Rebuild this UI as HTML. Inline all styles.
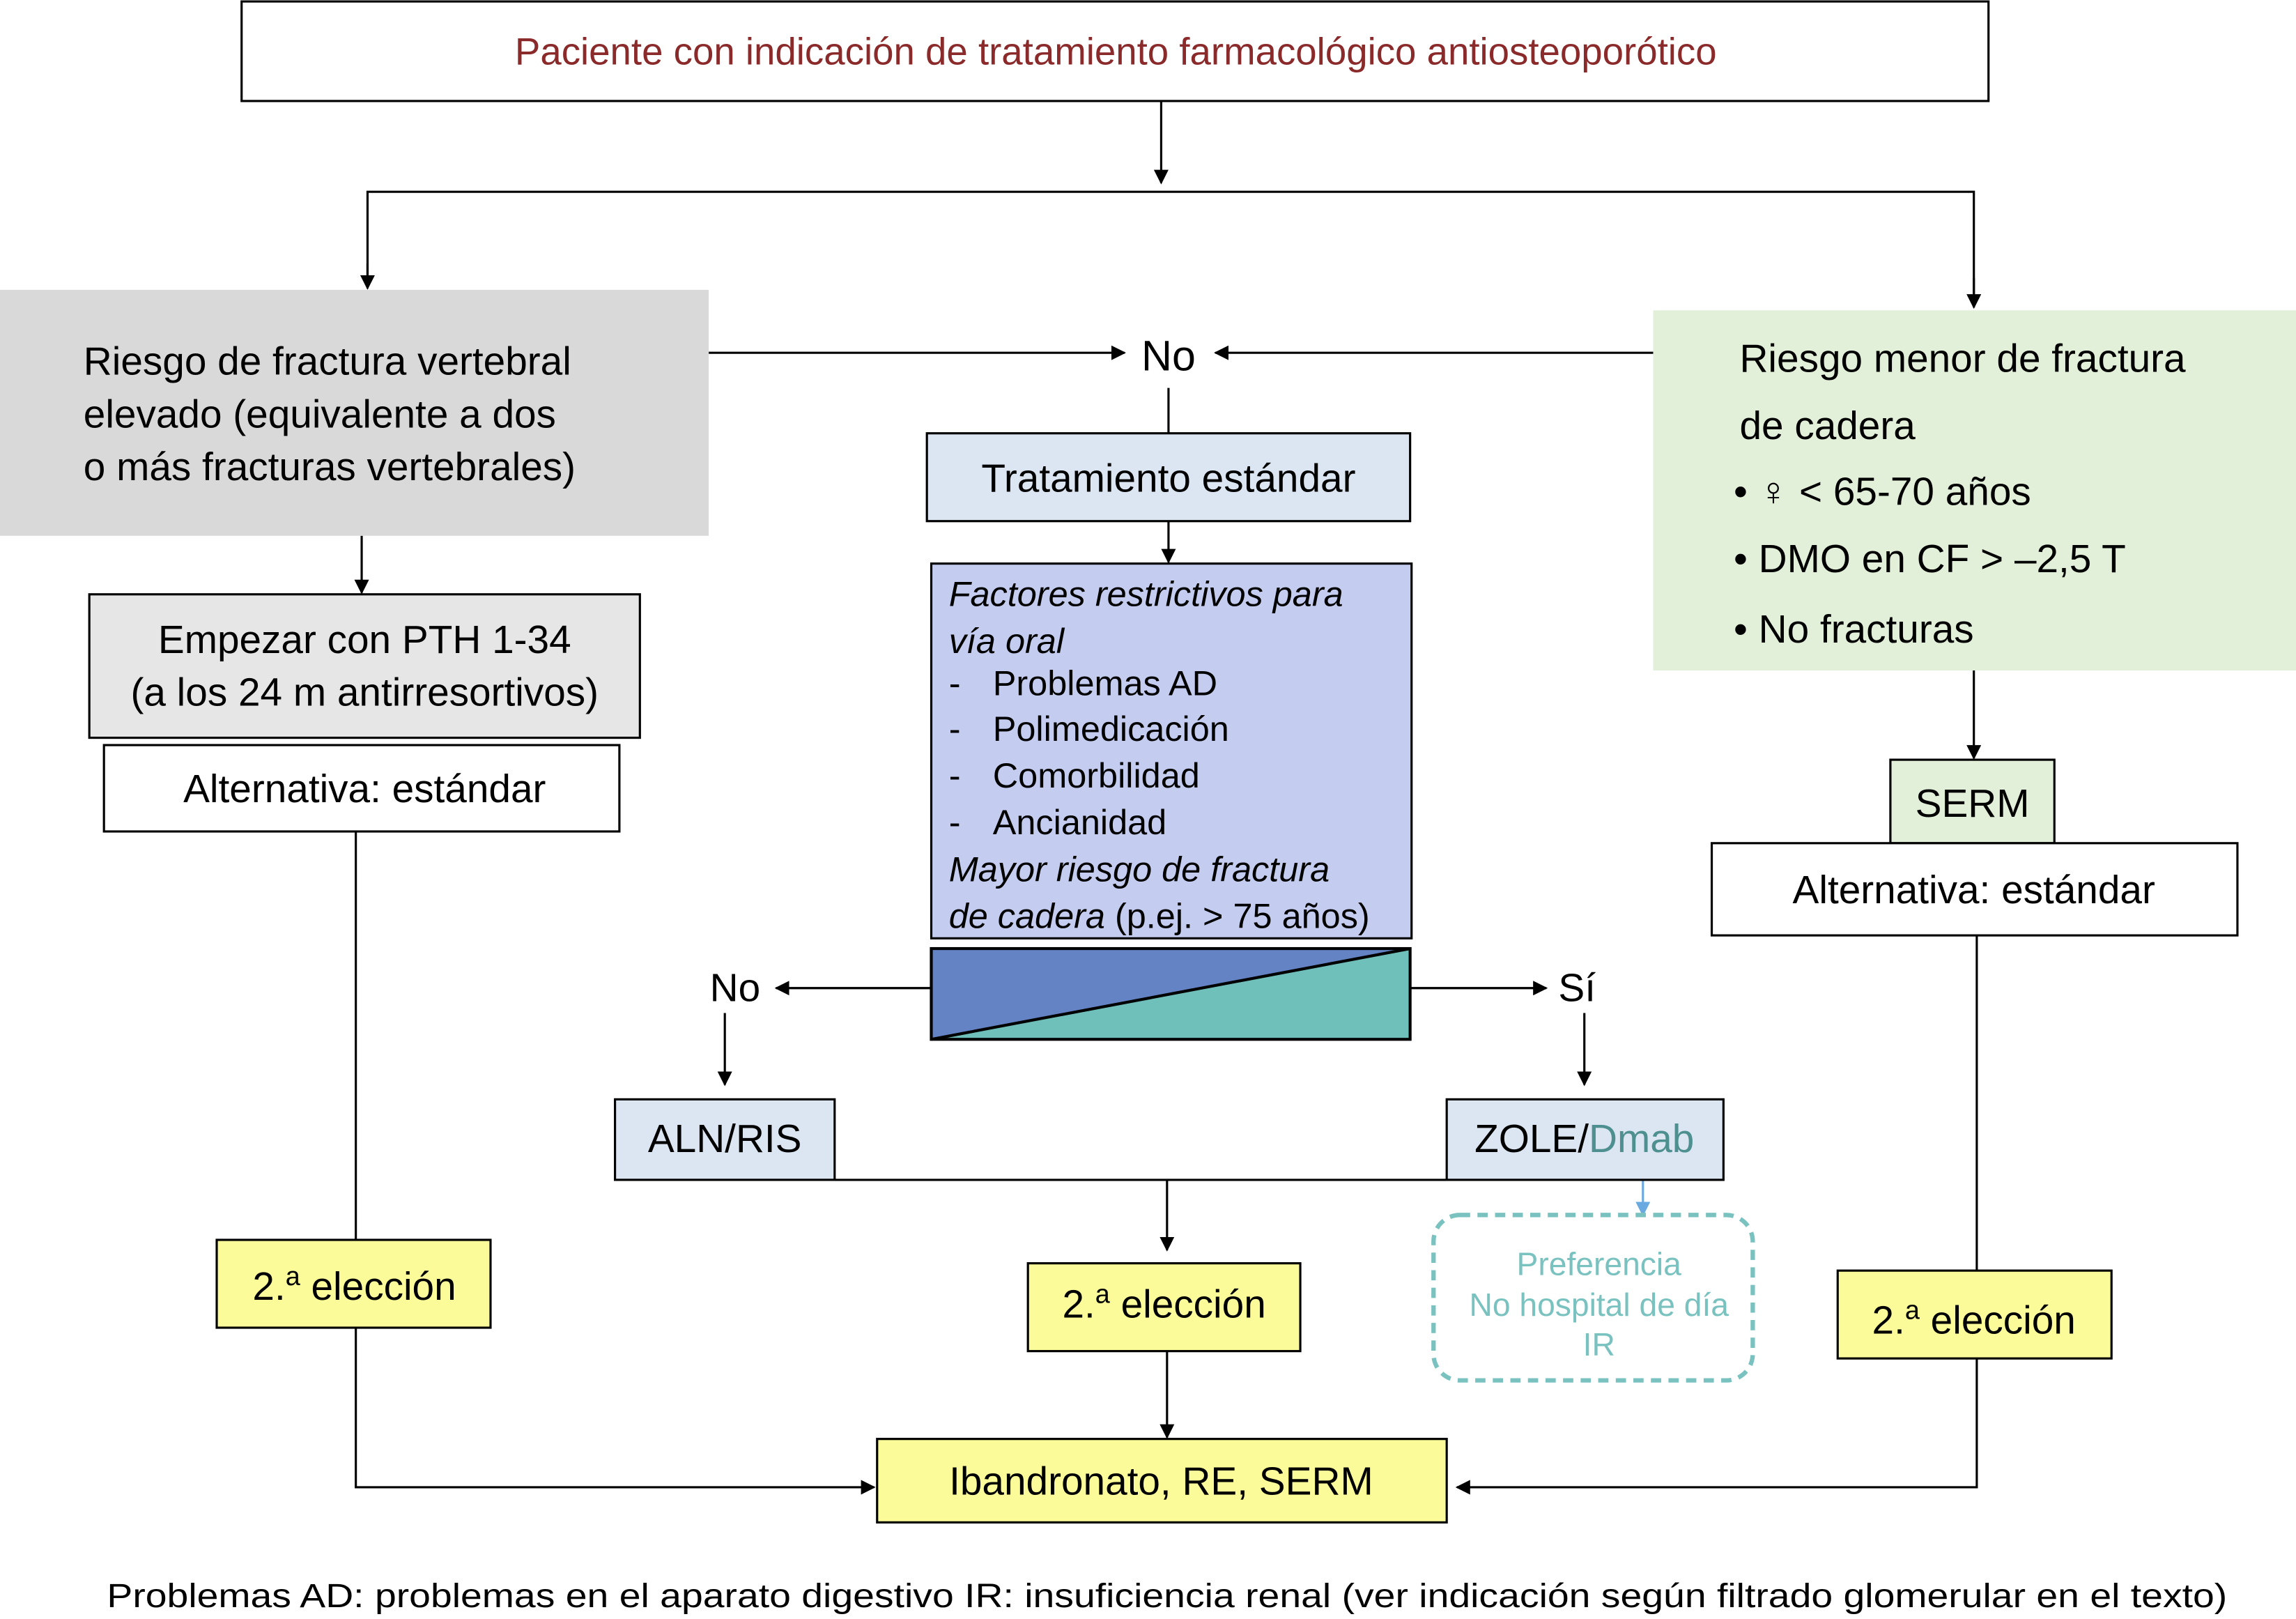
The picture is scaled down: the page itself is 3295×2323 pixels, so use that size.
<!DOCTYPE html>
<html><head><meta charset="utf-8"><style>
html,body{margin:0;padding:0;background:#fff;}
svg{display:block;}
text{font-family:"Liberation Sans",Arial,sans-serif;}
</style></head><body>
<svg width="3295" height="2323" viewBox="0 0 1568 1106" preserveAspectRatio="none" xmlns="http://www.w3.org/2000/svg">
<defs>
<marker id="a" markerWidth="10" markerHeight="10" refX="9" refY="5" orient="auto" markerUnits="userSpaceOnUse"><path d="M0,0 L10,5 L0,10 z" fill="#000"/></marker>
<marker id="b" markerWidth="10" markerHeight="10" refX="9" refY="5" orient="auto" markerUnits="userSpaceOnUse"><path d="M0,0 L10,5 L0,10 z" fill="#6aaae0"/></marker>
</defs>
<g stroke="#000" stroke-width="1.5" fill="none">
<!-- top -->
<line x1="793" y1="69" x2="793" y2="125" marker-end="url(#a)"/>
<polyline points="251,196 251,131 1348,131 1348,209" />
<line x1="251" y1="180" x2="251" y2="197" marker-end="url(#a)"/>
<line x1="1348" y1="190" x2="1348" y2="210" marker-end="url(#a)"/>
<line x1="484" y1="241" x2="768" y2="241" marker-end="url(#a)"/>
<line x1="1129" y1="241" x2="830" y2="241" marker-end="url(#a)"/>
<line x1="798" y1="265" x2="798" y2="296"/>
<line x1="798" y1="356" x2="798" y2="384" marker-end="url(#a)"/>
<line x1="636" y1="675" x2="530" y2="675" marker-end="url(#a)"/>
<line x1="963" y1="675" x2="1056" y2="675" marker-end="url(#a)"/>
<line x1="495" y1="692" x2="495" y2="741" marker-end="url(#a)"/>
<line x1="1082" y1="692" x2="1082" y2="741" marker-end="url(#a)"/>
<line x1="570" y1="806" x2="988" y2="806"/>
<line x1="797" y1="806" x2="797" y2="854" marker-end="url(#a)"/>
<line x1="797" y1="923" x2="797" y2="982" marker-end="url(#a)"/>
<line x1="247" y1="366" x2="247" y2="405" marker-end="url(#a)"/>
<line x1="243" y1="568" x2="243" y2="847"/>
<polyline points="243,907 243,1016 597,1016" marker-end="url(#a)"/>
<line x1="1348" y1="458" x2="1348" y2="518" marker-end="url(#a)"/>
<line x1="1350" y1="639" x2="1350" y2="868"/>
<polyline points="1350,928 1350,1016 995,1016" marker-end="url(#a)"/>
</g>
<line x1="1122" y1="806" x2="1122" y2="830" stroke="#6aaae0" stroke-width="1.5" marker-end="url(#b)"/>
<!-- boxes -->
<rect x="165" y="1" width="1193" height="68" fill="#fff" stroke="#000" stroke-width="1.5"/>
<text x="762" y="44" font-size="26" fill="#8b2a2a" text-anchor="middle">Paciente con indicación de tratamiento farmacológico antiosteoporótico</text>
<rect x="0" y="198" width="484" height="168" fill="#d9d9d9"/>
<g font-size="27" fill="#000">
<text x="57" y="256">Riesgo de fractura vertebral</text>
<text x="57" y="292">elevado (equivalente a dos</text>
<text x="57" y="328">o más fracturas vertebrales)</text>
</g>
<text x="798" y="253" font-size="29" text-anchor="middle">No</text>
<rect x="1129" y="212" width="439" height="246" fill="#e2efd9"/>
<g font-size="27">
<text x="1188" y="254">Riesgo menor de fractura</text>
<text x="1188" y="300">de cadera</text>
<text x="1184" y="345">• ♀ &lt; 65-70 años</text>
<text x="1184" y="391">• DMO en CF &gt; –2,5 T</text>
<text x="1184" y="439">• No fracturas</text>
</g>
<rect x="633" y="296" width="330" height="60" fill="#dce6f2" stroke="#000" stroke-width="1.5"/>
<text x="798" y="336" font-size="27" text-anchor="middle">Tratamiento estándar</text>
<rect x="636" y="385" width="328" height="256" fill="#c4cdef" stroke="#000" stroke-width="1.5"/>
<g font-size="24">
<text x="648" y="414" font-style="italic">Factores restrictivos para</text>
<text x="648" y="446" font-style="italic">vía oral</text>
<text x="648" y="475">-</text><text x="678" y="475">Problemas AD</text>
<text x="648" y="506">-</text><text x="678" y="506">Polimedicación</text>
<text x="648" y="538">-</text><text x="678" y="538">Comorbilidad</text>
<text x="648" y="570">-</text><text x="678" y="570">Ancianidad</text>
<text x="648" y="602" font-style="italic">Mayor riesgo de fractura</text>
<text x="648" y="634"><tspan font-style="italic">de cadera</tspan> (p.ej. &gt; 75 años)</text>
</g>
<polygon points="636,648 963,648 636,710" fill="#6383c4"/>
<polygon points="963,648 963,710 636,710" fill="#6fbfbb"/>
<rect x="636" y="648" width="327" height="62" fill="none" stroke="#000" stroke-width="2"/>
<line x1="636" y1="710" x2="963" y2="648" stroke="#000" stroke-width="2"/>
<text x="502" y="684" font-size="27" text-anchor="middle">No</text>
<text x="1077" y="684" font-size="27" text-anchor="middle">Sí</text>
<rect x="420" y="751" width="150" height="55" fill="#dce6f2" stroke="#000" stroke-width="1.5"/>
<text x="495" y="787" font-size="27" text-anchor="middle">ALN/RIS</text>
<rect x="988" y="751" width="189" height="55" fill="#dce6f2" stroke="#000" stroke-width="1.5"/>
<text x="1082" y="787" font-size="27" text-anchor="middle">ZOLE/<tspan fill="#4e8f8f">Dmab</tspan></text>
<rect x="702" y="863" width="186" height="60" fill="#fbfb99" stroke="#000" stroke-width="1.5"/>
<text x="795" y="900" font-size="27" text-anchor="middle">2.<tspan font-size="18" dy="-10">a</tspan><tspan dy="10"> elección</tspan></text>
<rect x="979" y="830" width="218" height="113" rx="18" fill="none" stroke="#7ac2c0" stroke-width="3" stroke-dasharray="7,5"/>
<g font-size="22" fill="#7ac2c0" text-anchor="middle">
<text x="1092" y="871">Preferencia</text>
<text x="1092" y="899">No hospital de día</text>
<text x="1092" y="926">IR</text>
</g>
<rect x="599" y="983" width="389" height="57" fill="#fbfb99" stroke="#000" stroke-width="1.5"/>
<text x="793" y="1021" font-size="27" text-anchor="middle">Ibandronato, RE, SERM</text>
<rect x="61" y="406" width="376" height="98" fill="#e6e6e6" stroke="#000" stroke-width="1.5"/>
<text x="249" y="446" font-size="27" text-anchor="middle">Empezar con PTH 1-34</text>
<text x="249" y="482" font-size="27" text-anchor="middle">(a los 24 m antirresortivos)</text>
<rect x="71" y="509" width="352" height="59" fill="#fff" stroke="#000" stroke-width="1.5"/>
<text x="249" y="548" font-size="27" text-anchor="middle">Alternativa: estándar</text>
<rect x="148" y="847" width="187" height="60" fill="#fbfb99" stroke="#000" stroke-width="1.5"/>
<text x="242" y="888" font-size="27" text-anchor="middle">2.<tspan font-size="18" dy="-10">a</tspan><tspan dy="10"> elección</tspan></text>
<rect x="1291" y="519" width="112" height="57" fill="#e2efd9" stroke="#000" stroke-width="1.5"/>
<text x="1347" y="558" font-size="27" text-anchor="middle">SERM</text>
<rect x="1169" y="576" width="359" height="63" fill="#fff" stroke="#000" stroke-width="1.5"/>
<text x="1348" y="617" font-size="27" text-anchor="middle">Alternativa: estándar</text>
<rect x="1255" y="868" width="187" height="60" fill="#fbfb99" stroke="#000" stroke-width="1.5"/>
<text x="1348" y="911" font-size="27" text-anchor="middle">2.<tspan font-size="18" dy="-10">a</tspan><tspan dy="10"> elección</tspan></text>
<text x="797" y="1098" font-size="23" text-anchor="middle" textLength="1448" lengthAdjust="spacingAndGlyphs">Problemas AD: problemas en el aparato digestivo IR: insuficiencia renal (ver indicación según filtrado glomerular en el texto)</text>
</svg>
</body></html>
